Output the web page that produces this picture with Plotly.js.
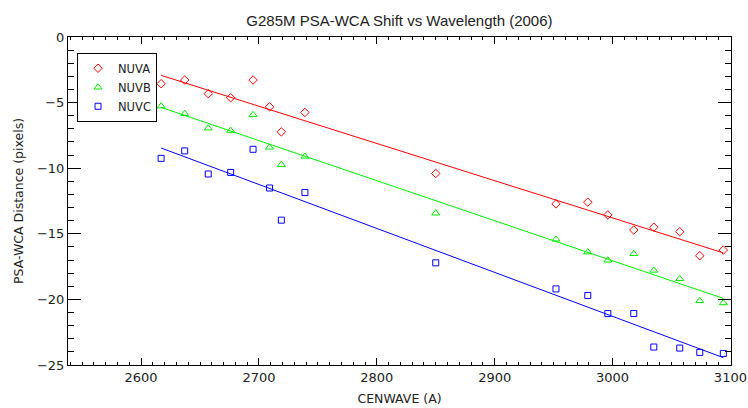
<!DOCTYPE html>
<html>
<head>
<meta charset="utf-8">
<script src="https://cdn.plot.ly/plotly-3.0.1.min.js"></script>
<style>html,body{margin:0;padding:0;background:#fff;}#chart{width:748px;height:408px;}</style>
</head>
<body>
<div id="chart"></div>
<script>
const cenwave = [2617, 2637, 2657, 2676, 2695, 2709, 2719, 2739, 2850, 2952, 2979, 2996, 3018, 3035, 3057, 3074, 3094];
const nuva = [-3.56, -3.28, -4.32, -4.63, -3.28, -5.32, -7.23, -5.75, -10.40, -12.72, -12.59, -13.56, -14.71, -14.50, -14.84, -16.67, -16.24];
const nuvb = [-5.27, -5.85, -6.95, -7.13, -5.93, -8.41, -9.73, -9.10, -13.43, -15.42, -16.39, -17.02, -16.52, -17.79, -18.43, -20.11, -20.27];
const nuvc = [-9.25, -8.68, -10.44, -10.32, -8.56, -11.51, -13.96, -11.85, -17.21, -19.20, -19.70, -21.08, -21.08, -23.63, -23.71, -24.04, -24.12];
const seriesNames = ['NUVA', 'NUVB', 'NUVC'];
const xTickVals = [2600, 2700, 2800, 2900, 3000, 3100];
const yTickVals = [0, -5, -10, -15, -20, -25];

const colors = ['#ff0000', '#00ee00', '#0000ff'];
const symbols = ['diamond-open', 'triangle-up-open', 'square-open'];
const sizes = [6.5, 7, 6];

function linfit(x, y) {
  const n = x.length;
  let sx = 0, sy = 0, sxx = 0, sxy = 0;
  for (let i = 0; i < n; i++) { sx += x[i]; sy += y[i]; sxx += x[i]*x[i]; sxy += x[i]*y[i]; }
  const b = (n*sxy - sx*sy) / (n*sxx - sx*sx);
  const a = (sy - b*sx) / n;
  return {a, b};
}

const allY = [nuva, nuvb, nuvc];
const traces = [];
const xmin = Math.min(...cenwave), xmax = Math.max(...cenwave);
allY.forEach((ys, i) => {
  traces.push({
    x: cenwave, y: ys, type: 'scatter', mode: 'markers', name: seriesNames[i],
    marker: {symbol: symbols[i], size: sizes[i], color: colors[i], line: {width: 1, color: colors[i]}}
  });
});
allY.forEach((ys, i) => {
  const f = linfit(cenwave, ys);
  traces.push({
    x: [xmin, xmax], y: [f.a + f.b*xmin, f.a + f.b*xmax], type: 'scatter', mode: 'lines',
    showlegend: false, hoverinfo: 'skip', line: {color: colors[i], width: 1}
  });
});

const fontFam = 'DejaVu Sans, sans-serif';
const layout = {
  width: 748, height: 408,
  margin: {l: 68, r: 17, t: 37, b: 43},
  paper_bgcolor: '#fff', plot_bgcolor: '#fff',
  font: {family: fontFam, size: 12, color: '#222'},
  title: {text: 'G285M PSA-WCA Shift vs Wavelength (2006)', x: 0.534, xanchor: 'center', y: 0.949, yanchor: 'middle', yref: 'container', font: {size: 15, family: 'Liberation Sans, sans-serif', color: '#222'}},
  xaxis: {
    range: [2538, 3100.5], tickvals: xTickVals, ticktext: xTickVals.map(String),
    ticks: 'inside', ticklen: 7, tickcolor: '#000', showline: true, linecolor: '#000', linewidth: 1, mirror: 'ticks',
    showgrid: false, zeroline: false,
    minor: {ticks: 'inside', dtick: 10, tick0: 2600, ticklen: 3, tickcolor: '#000', showgrid: false},
    tickfont: {size: 13, family: fontFam, color: '#222'},
    title: {text: 'CENWAVE (A)', standoff: 10, font: {size: 12.5, family: fontFam, color: '#222'}}
  },
  yaxis: {
    range: [-25, 0], tickvals: yTickVals,
    ticks: 'inside', ticklen: 13, tickcolor: '#000', showline: true, linecolor: '#000', linewidth: 1, mirror: 'ticks',
    showgrid: false, zeroline: false,
    minor: {ticks: 'inside', dtick: 1, tick0: 0, ticklen: 6, tickcolor: '#000', showgrid: false},
    tickfont: {size: 13, family: fontFam, color: '#222'},
    title: {text: 'PSA-WCA Distance (pixels)', standoff: 10, font: {size: 12.5, family: fontFam, color: '#222'}}
  },
  showlegend: true,
  legend: {x: 0.0136, y: 0.952, xanchor: 'left', yanchor: 'top', bgcolor: '#fff', bordercolor: '#000', borderwidth: 1,
    font: {size: 11.5, family: fontFam, color: '#222'}, itemwidth: 30, tracegroupgap: 0}
};
Plotly.newPlot('chart', traces, layout, {displayModeBar: false, staticPlot: true});
</script>
</body>
</html>
